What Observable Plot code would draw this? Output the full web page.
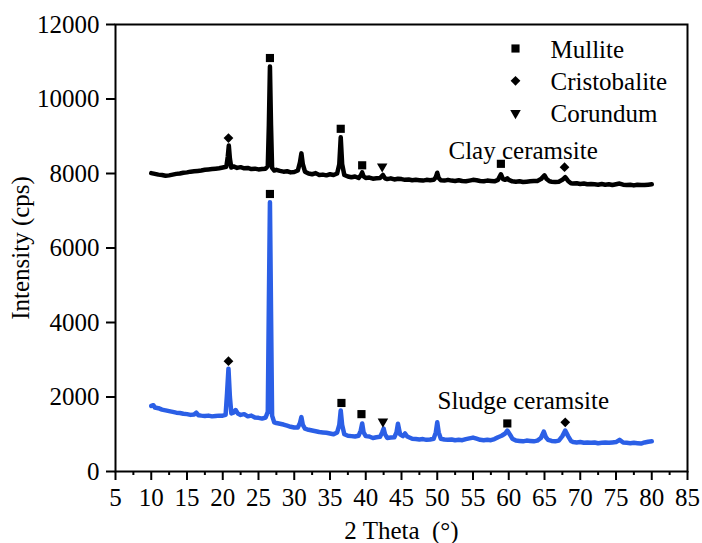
<!DOCTYPE html>
<html><head><meta charset="utf-8">
<script src="https://cdn.jsdelivr.net/npm/d3@7"></script>
<script src="https://cdn.jsdelivr.net/npm/@observablehq/plot@0.6"></script>
<style>body{margin:0;background:#fff}#chart{width:702px;height:543px}
#chart svg, #chart svg *{font-family:"Liberation Serif","Times New Roman",serif !important;font-variant-numeric:normal !important}</style>
</head><body><div id="chart"></div>
<script>
// ---- data ----
const seriesNames = ["Clay ceramsite", "Sludge ceramsite"];
const phases = ["Mullite", "Cristobalite", "Corundum"];
const xTicks = [5,10,15,20,25,30,35,40,45,50,55,60,65,70,75,80,85];
const yTicks = [0,2000,4000,6000,8000,10000,12000];

// [2θ, intensity]
const clay = [[10,8010],[10.5,7990],[11,7970],[11.5,7960],[12,7940],[12.5,7950],[13,7970],[13.5,7990],[14,8000],[14.5,8020],[15,8030],[15.5,8050],[16,8060],[16.5,8070],[17,8080],[17.5,8100],[18,8110],[18.5,8120],[19,8130],[19.5,8140],[20,8160],[20.5,8180],[20.7,8450],[20.85,8750],[21,8400],[21.2,8160],[21.5,8190],[22,8150],[22.5,8170],[23,8140],[23.5,8150],[24,8120],[24.5,8130],[25,8110],[25.5,8120],[26,8130],[26.3,8200],[26.45,9300],[26.6,10870],[26.75,9300],[26.9,8150],[27.2,8080],[27.5,8100],[28,8070],[28.5,8050],[29,8060],[29.5,8030],[30,8040],[30.5,8080],[30.8,8300],[31,8540],[31.2,8250],[31.5,8050],[32,8000],[32.5,7980],[33,8010],[33.5,7960],[34,7970],[34.5,7950],[35,7980],[35.5,7960],[36,8000],[36.3,8250],[36.5,8970],[36.7,8250],[37,7960],[37.5,7920],[38,7900],[38.5,7920],[39,7880],[39.3,7950],[39.5,8030],[39.7,7920],[40,7880],[40.5,7890],[41,7860],[41.5,7870],[42,7880],[42.4,7960],[42.7,7870],[43,7850],[43.5,7870],[44,7840],[44.5,7860],[45,7850],[45.5,7830],[46,7840],[46.5,7820],[47,7830],[47.5,7820],[48,7810],[48.5,7830],[49,7820],[49.5,7830],[49.8,7900],[50,8020],[50.2,7880],[50.5,7820],[51,7810],[51.5,7830],[52,7810],[52.5,7800],[53,7820],[53.5,7800],[54,7790],[54.5,7810],[55,7830],[55.5,7820],[56,7800],[56.5,7790],[57,7810],[57.5,7800],[58,7790],[58.5,7830],[58.9,7980],[59.2,7850],[59.5,7830],[59.8,7870],[60,7830],[60.5,7790],[61,7780],[61.5,7790],[62,7770],[62.5,7780],[63,7790],[63.5,7800],[64,7800],[64.5,7850],[65,7950],[65.3,7850],[65.7,7790],[66,7780],[66.5,7770],[67,7780],[67.5,7830],[67.9,7900],[68.3,7800],[68.7,7740],[69,7730],[69.5,7740],[70,7720],[70.5,7730],[71,7710],[71.5,7720],[72,7710],[72.5,7700],[73,7720],[73.5,7700],[74,7710],[74.5,7690],[75,7710],[75.5,7730],[76,7700],[76.5,7690],[77,7700],[77.5,7680],[78,7700],[78.5,7690],[79,7690],[79.5,7700],[80,7710]];

const sludge = [[10,1760],[10.3,1780],[10.5,1720],[11,1700],[11.5,1660],[12,1640],[12.5,1620],[13,1600],[13.5,1580],[14,1570],[14.5,1550],[15,1540],[15.5,1520],[16,1530],[16.3,1580],[16.6,1510],[17,1500],[17.5,1490],[18,1500],[18.5,1480],[19,1490],[19.5,1500],[20,1500],[20.4,1520],[20.6,2100],[20.8,2760],[21,2000],[21.2,1560],[21.5,1580],[21.8,1650],[22.1,1560],[22.5,1520],[23,1540],[23.5,1480],[24,1500],[24.5,1450],[25,1440],[25.5,1420],[26,1450],[26.3,1600],[26.45,4500],[26.6,7230],[26.75,4300],[26.9,1500],[27.2,1320],[27.5,1300],[28,1280],[28.5,1260],[29,1230],[29.5,1200],[30,1180],[30.5,1180],[30.8,1300],[31,1460],[31.2,1250],[31.5,1150],[32,1120],[32.5,1100],[33,1080],[33.5,1060],[34,1050],[34.5,1040],[35,1020],[35.5,1000],[36,1050],[36.3,1250],[36.5,1640],[36.7,1250],[37,1000],[37.5,960],[38,950],[38.5,940],[39,960],[39.3,1100],[39.5,1290],[39.7,1050],[40,950],[40.5,940],[41,900],[41.5,920],[42,930],[42.3,1050],[42.5,1150],[42.7,1000],[43,900],[43.5,910],[44,920],[44.3,1050],[44.5,1280],[44.8,1000],[45.2,950],[45.5,1020],[45.8,940],[46.5,880],[47,870],[47.5,860],[48,870],[48.5,850],[49,860],[49.5,880],[49.8,1050],[50,1320],[50.2,1050],[50.5,880],[51,860],[51.5,850],[52,860],[52.5,840],[53,850],[53.5,840],[54,870],[54.5,890],[55,910],[55.5,880],[56,850],[56.5,840],[57,850],[57.5,840],[58,870],[58.5,920],[59,960],[59.5,1020],[59.8,1100],[60.2,980],[60.5,880],[61,830],[61.5,820],[62,810],[62.5,830],[63,820],[63.5,810],[64,830],[64.5,900],[64.9,1070],[65.2,920],[65.5,850],[66,820],[66.5,810],[67,830],[67.5,950],[67.9,1100],[68.3,950],[68.7,820],[69,790],[69.5,780],[70,790],[70.5,770],[71,780],[71.5,770],[72,780],[72.5,760],[73,770],[73.5,780],[74,770],[74.5,780],[75,790],[75.5,850],[76,780],[76.5,770],[77,760],[77.5,770],[78,760],[78.5,750],[79,780],[79.5,800],[80,810]];

// phase markers: [phase, 2θ, intensity]
const clayMarkers = [["Cristobalite",20.8,8950],["Mullite",26.6,11100],["Mullite",36.5,9200],["Mullite",39.5,8220],["Corundum",42.3,8190],["Mullite",58.9,8260],["Cristobalite",67.8,8170]];
const sludgeMarkers = [["Cristobalite",20.8,2960],["Mullite",26.6,7450],["Mullite",36.6,1840],["Mullite",39.4,1540],["Corundum",42.4,1340],["Mullite",59.8,1290],["Cristobalite",67.9,1320]];

// ---- styling ----
const FONT = "Liberation Serif";
const FS = 25;
const symbolOf = {Mullite: {symbol: "square", r: 4.6, rotate: 0}, Cristobalite: {symbol: "diamond2", r: 4.4, rotate: 0}, Corundum: {symbol: "triangle", r: 3.9, rotate: 180}};
const allMarkers = clayMarkers.concat(sludgeMarkers);

const marks = [
  Plot.line(sludge, {x: d => d[0], y: d => d[1], stroke: "#2b5fe6", strokeWidth: 4.5, strokeLinejoin: "round"}),
  Plot.line(clay, {x: d => d[0], y: d => d[1], stroke: "#000", strokeWidth: 4.5, strokeLinejoin: "round"}),
  Plot.frame({stroke: "#000", strokeWidth: 2}),
  Plot.axisX({ticks: xTicks, tickSize: 9, tickPadding: 8, strokeWidth: 2, tickFormat: d => String(d), fontFamily: FONT, fontVariant: "normal",
    label: "2 Theta\u00a0 (°)", labelAnchor: "center", labelArrow: "none", labelOffset: 67, fontSize: FS}),
  Plot.axisX({ticks: xTicks.slice(0, -1).map(t => t + 2.5), tickSize: 4, strokeWidth: 2, tickFormat: () => "", label: null}),
  Plot.axisY({ticks: yTicks, tickSize: 9, tickPadding: 7, strokeWidth: 2, tickFormat: d => String(d), fontFamily: FONT, fontVariant: "normal",
    label: "Intensity (cps)", labelAnchor: "center", labelArrow: "none", labelOffset: 104, fontSize: FS})
];

for (const p of phases) {
  const s = symbolOf[p];
  marks.push(Plot.dot(allMarkers.filter(m => m[0] === p), {x: d => d[1], y: d => d[2], symbol: s.symbol, r: s.r, rotate: s.rotate, fill: "#000", stroke: "none"}));
}

// legend inside the frame (top right)
phases.forEach((p, i) => {
  const s = symbolOf[p];
  marks.push(Plot.dot([p], {frameAnchor: "top-left", dx: 400, dy: 24 + i * 32.3, symbol: s.symbol, r: s.r, rotate: s.rotate, fill: "#000", stroke: "none"}));
  marks.push(Plot.text([p], {frameAnchor: "top-left", dx: 435, dy: 25 + i * 32.3, textAnchor: "start", lineAnchor: "middle", fontSize: FS, fontFamily: FONT, fill: "#000"}));
});

// series labels
const labelPos = [{dx: 333, dy: 126}, {dx: 322, dy: 376}];
seriesNames.forEach((n, i) => {
  marks.push(Plot.text([n], {frameAnchor: "top-left", dx: labelPos[i].dx, dy: labelPos[i].dy, textAnchor: "start", lineAnchor: "middle", fontSize: FS, fontFamily: FONT, fill: "#000"}));
});

const chart = Plot.plot({
  width: 702, height: 543,
  marginLeft: 115, marginRight: 15, marginTop: 24, marginBottom: 72,
  style: {fontFamily: FONT, fontSize: FS + "px", color: "#000", background: "#fff"},
  x: {domain: [5, 85]},
  y: {domain: [0, 12000]},
  marks
});
document.getElementById("chart").appendChild(chart);
</script>
</body></html>
